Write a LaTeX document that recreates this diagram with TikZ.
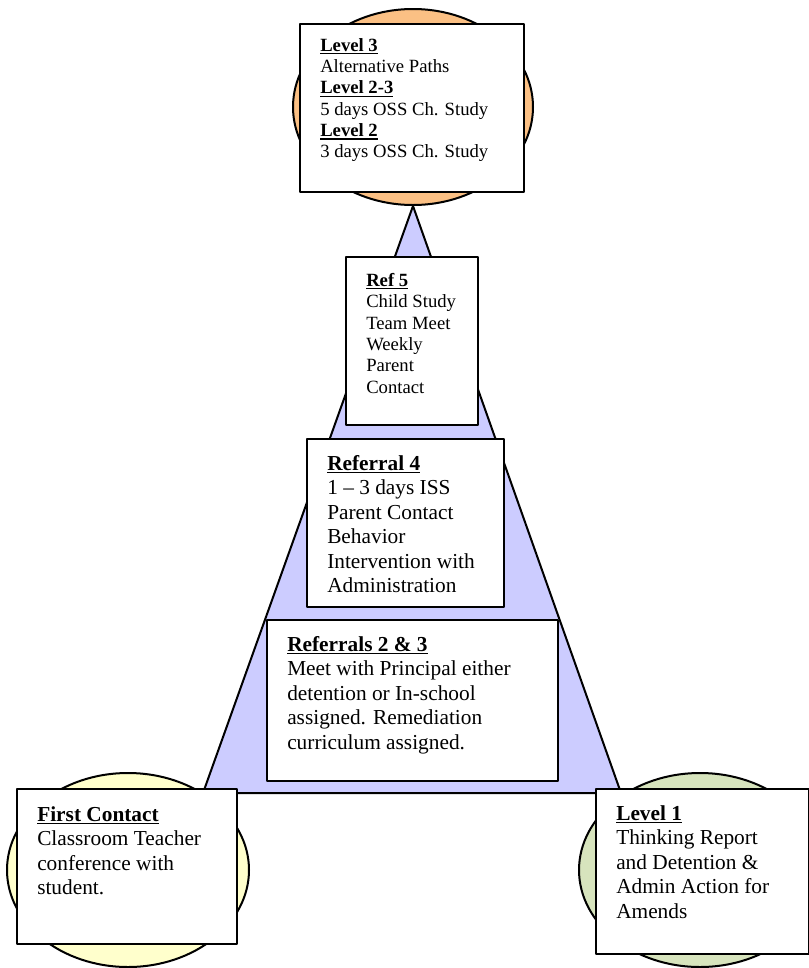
\documentclass[tikz,border=0pt]{standalone}
\usepackage{fontspec}
\setmainfont{Liberation Serif}
\usepackage{tikz}
\usetikzlibrary{shapes.geometric,positioning}
\definecolor{peach}{RGB}{251,192,132}
\definecolor{lilac}{RGB}{204,204,255}
\definecolor{cream}{RGB}{255,255,204}
\definecolor{sage}{RGB}{215,228,189}
\tikzstyle{blob} = [ellipse, draw, line width=1.5pt, minimum width=181.5pt, minimum height=145.5pt, inner sep=0pt]
\tikzstyle{block} = [rectangle, draw, fill=white, line width=1.5pt, anchor=north west, inner sep=0pt]
\tikzstyle{small} = [anchor=north west, inner sep=0pt, align=left, font=\fontsize{14}{16}\selectfont]
\tikzstyle{big} = [anchor=north west, inner sep=0pt, align=left, font=\fontsize{16}{18.4}\selectfont]
\newcommand{\heading}[1]{\setbox0\hbox{\textbf{#1}}\rlap{\vrule width\wd0 height -1.4pt depth 2.3pt}\box0}

\begin{document}
\begin{tikzpicture}[line join=round]
  \useasboundingbox (0pt,0pt) rectangle (606.75pt,-726pt);
  % ellipses behind
  \draw (309.75pt,-80.25pt)node[blob,fill=peach,minimum width=180pt,minimum height=147pt](top){};
  \draw (96.0pt,-652.5pt)node[blob,fill=cream](left){};
  \draw (525.0pt,-652.5pt)node[blob,fill=sage](right){};
  % pyramid
  \coordinate (bl) at (152.25pt,-594.75pt);
  \coordinate (br) at (465.75pt,-594.75pt);
  \draw[line width=1.5pt,fill=lilac] (top.south) -- (bl) -- (br) -- cycle;
  % boxes
  \draw (224.25pt,-17.25pt)node[block,minimum width=168pt,minimum height=126pt](lvl3){};
  \draw (258.75pt,-192.0pt)node[block,minimum width=99pt,minimum height=126pt](ref5){};
  \draw (229.5pt,-328.5pt)node[block,minimum width=147.75pt,minimum height=126pt](ref4){};
  \draw (199.5pt,-464.25pt)node[block,minimum width=218.25pt,minimum height=120.75pt](ref23){};
  \draw (12.0pt,-591.0pt)node[block,minimum width=165pt,minimum height=116.25pt](first){};
  \draw (446.25pt,-591.0pt)node[block,minimum width=159.75pt,minimum height=123.75pt](lvl1){};
  % texts
  \node[small,below right=11.25pt and 15.75pt of lvl3.north west](lvl3txt){\heading{Level 3}\\Alternative Paths\\\heading{Level 2-3}\\5 days OSS Ch. Study\\\heading{Level 2}\\3 days OSS Ch. Study};
  \node[small,below right=12.75pt and 15.75pt of ref5.north west](ref5txt){\heading{Ref 5}\\Child Study\\Team Meet\\Weekly\\Parent\\Contact};
  \node[big,below right=12.75pt and 15.75pt of ref4.north west](ref4txt){\heading{Referral 4}\\1 – 3 days ISS\\Parent Contact\\Behavior\\Intervention with\\Administration};
  \node[big,below right=12.75pt and 15.75pt of ref23.north west](ref23txt){\heading{Referrals 2 \& 3}\\Meet with Principal either\\detention or In-school\\assigned. Remediation\\curriculum assigned.};
  \node[big,below right=13.5pt and 15.75pt of first.north west](firsttxt){\heading{First Contact}\\Classroom Teacher\\conference with\\student.};
  \node[big,below right=12.75pt and 15.75pt of lvl1.north west](lvl1txt){\heading{Level 1}\\Thinking Report\\and Detention \&\\Admin Action for\\Amends};
\end{tikzpicture}
\end{document}
